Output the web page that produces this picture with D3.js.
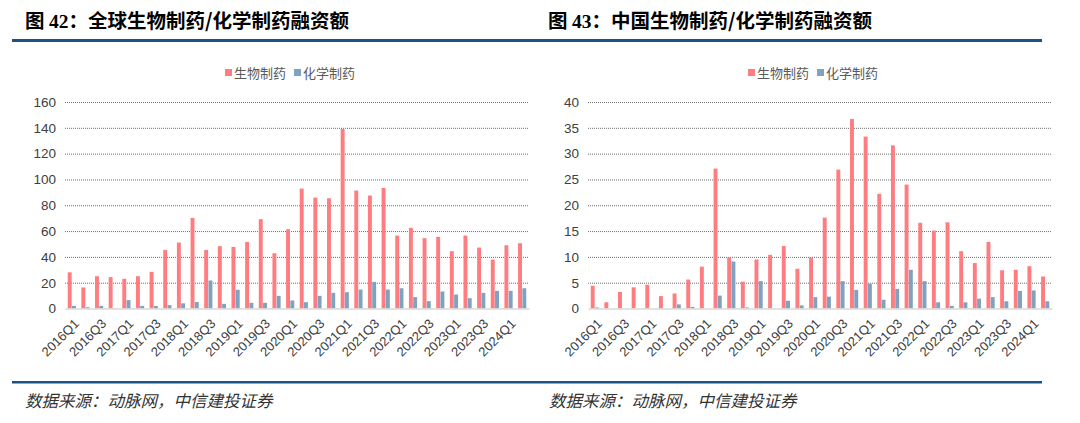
<!DOCTYPE html>
<html><head><meta charset="utf-8">
<script src="https://cdn.jsdelivr.net/npm/d3@7"></script>
<style>
body{margin:0;background:#fff;}
svg{display:block;}
</style></head>
<body>
<svg id="c" width="1080" height="423"></svg>
<script>
const quarters = ["2016Q1","2016Q2","2016Q3","2016Q4","2017Q1","2017Q2","2017Q3","2017Q4",
"2018Q1","2018Q2","2018Q3","2018Q4","2019Q1","2019Q2","2019Q3","2019Q4",
"2020Q1","2020Q2","2020Q3","2020Q4","2021Q1","2021Q2","2021Q3","2021Q4",
"2022Q1","2022Q2","2022Q3","2022Q4","2023Q1","2023Q2","2023Q3","2023Q4",
"2024Q1","2024Q2"];
const seriesNames = ["生物制药","化学制药"];
const globalBio = [28,16.3,25,24.3,23,25,28.4,45.4,51.1,70.2,45.4,48.3,47.7,51.6,69.2,42.8,
61.4,92.9,85.9,85.4,139.1,91.4,87.5,93.4,56.5,62.5,54.5,55.5,44.4,56.5,47.2,37.9,49,50.6];
const globalChem = [2,1,2,0.3,6.5,2,2,2.6,4,5,21.7,3.6,14.5,4.4,4.4,9.8,
6.2,4.9,9.8,12.1,12.6,14.7,20.6,14.7,15.7,8.8,5.7,13.2,10.8,8,12.1,13.7,13.7,15.7];
const chinaBio = [4.4,1.2,3.2,4.1,4.6,2.4,2.9,5.6,8.1,27.1,9.9,5.2,9.5,10.4,12.1,7.7,
9.9,17.6,26.9,36.7,33.3,22.2,31.6,24,16.6,15.1,16.7,11.1,8.8,12.9,7.4,7.5,8.2,6.2];
const chinaChem = [0.2,0,0,0,0,0,0.8,0.3,0,2.5,9.1,0.2,5.3,0,1.5,0.6,
2.2,2.3,5.3,3.6,4.8,1.7,3.8,7.5,5.3,1.2,0.5,1.2,1.9,2.2,1.4,3.4,3.5,1.4];
const globalTicks = [0,20,40,60,80,100,120,140,160];
const chinaTicks = [0,5,10,15,20,25,30,35,40];
const titles = ["图 42：全球生物制药/化学制药融资额","图 43：中国生物制药/化学制药融资额"];
const sourceText = "数据来源：动脉网，中信建投证券";

const colors = ["#FF7C80","#7EA2C1"];
const svg = d3.select("#c");
const sansLatin = "'Liberation Sans', Arial, sans-serif";
const cjk = "'Noto Sans CJK SC', sans-serif";

function panel(cfg) {
  const {titleX, title, bio, chem, ticks, yMax, plotL, plotR, ruleX0, ruleX1, srcX} = cfg;
  const g = svg.append("g");
  // title
  const t = g.append("text").attr("x", titleX).attr("y", 28)
    .attr("font-size", 19.5).attr("font-weight", "bold").attr("fill", "#000")
    .attr("font-family", cjk);
  const parts = title.match(/^(图 )(\d+)(：.*)$/);
  t.append("tspan").text(parts[1]);
  t.append("tspan").attr("font-family", "'Liberation Serif', 'Times New Roman', serif").text(parts[2]);
  t.append("tspan").text(parts[3]);
  // rules
  g.append("rect").attr("x", ruleX0).attr("y", 39).attr("width", ruleX1 - ruleX0).attr("height", 3).attr("fill", "#1B5288");
  g.append("rect").attr("x", ruleX0).attr("y", 381).attr("width", ruleX1 - ruleX0).attr("height", 2.5).attr("fill", "#1B5288");
  // source
  g.append("text").attr("x", srcX).attr("y", 407).attr("font-size", 16.5)
    .attr("font-style", "italic").attr("fill", "#333").attr("font-family", cjk)
    .text(sourceText);

  const y = d3.scaleLinear().domain([0, yMax]).range([308.5, 102]);
  const x = d3.scaleBand().domain(quarters).range([plotL, plotR]).paddingInner(0.4).paddingOuter(0.2);
  const x1 = d3.scaleBand().domain(seriesNames).range([0, x.bandwidth()]).paddingInner(0.08);

  // grid
  const grid = d3.axisLeft(y).tickValues(ticks).tickSize(-(plotR - plotL)).tickFormat("");
  const gg = g.append("g").attr("transform", `translate(${plotL},0)`).call(grid);
  gg.select(".domain").remove();
  gg.selectAll(".tick line").attr("stroke", "#6f6f6f").attr("stroke-dasharray", "1,1").attr("stroke-width", 1);
  gg.selectAll(".tick").filter(d => d === 0).remove();

  // y labels
  const ya = d3.axisLeft(y).tickValues(ticks).tickSize(0).tickPadding(9);
  const yg = g.append("g").attr("transform", `translate(${plotL},0)`).call(ya);
  yg.select(".domain").remove();
  yg.selectAll("text").attr("font-size", 13.5).attr("fill", "#404040").attr("font-family", sansLatin);

  // bars
  const rows = quarters.map((q, i) => ({q, vals: [bio[i], chem[i]]}));
  const grp = g.append("g").selectAll("g").data(rows).join("g")
    .attr("transform", d => `translate(${x(d.q)},0)`);
  grp.selectAll("rect").data(d => d.vals.map((v, k) => ({k, v}))).join("rect")
    .attr("x", d => x1(seriesNames[d.k]))
    .attr("width", x1.bandwidth())
    .attr("y", d => y(d.v))
    .attr("height", d => y(0) - y(d.v))
    .attr("fill", d => colors[d.k]);

  // x axis
  const xa = d3.axisBottom(x).tickSize(0).tickValues(quarters.filter((q, i) => i % 2 === 0));
  const xg = g.append("g").attr("transform", `translate(0,${y(0)})`).call(xa);
  xg.select(".domain").attr("stroke", "#d9d9d9").attr("stroke-width", 1.5);
  xg.selectAll("text").attr("font-size", 13).attr("fill", "#404040").attr("font-family", sansLatin)
    .attr("text-anchor", "end").attr("dy", null).attr("y", 0)
    .attr("transform", "translate(8,16) rotate(-45)");

  // legend
  const legX = (plotL + plotR) / 2 - 72;
  const leg = g.append("g").attr("transform", `translate(${legX},73)`);
  let cx = 0;
  seriesNames.forEach((n, k) => {
    leg.append("rect").attr("x", cx).attr("y", -4).attr("width", 7).attr("height", 7).attr("fill", colors[k]);
    leg.append("text").attr("x", cx + 9).attr("y", 4.5).attr("font-size", 13)
      .attr("fill", "#595959").attr("font-family", cjk).text(n);
    cx += 69;
  });
}

panel({titleX: 25, title: titles[0], bio: globalBio, chem: globalChem, ticks: globalTicks, yMax: 160,
  plotL: 65, plotR: 529, ruleX0: 12, ruleX1: 540, srcX: 25});
panel({titleX: 548, title: titles[1], bio: chinaBio, chem: chinaChem, ticks: chinaTicks, yMax: 40,
  plotL: 588, plotR: 1052, ruleX0: 540, ruleX1: 1042, srcX: 549});
</script>
</body></html>
